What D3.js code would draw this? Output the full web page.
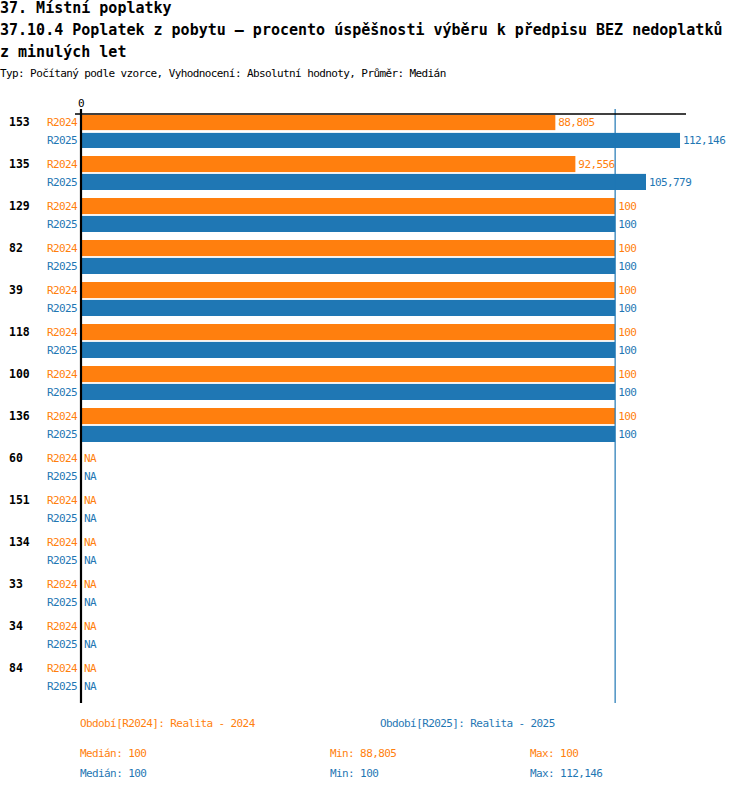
<!DOCTYPE html>
<html>
<head>
<meta charset="utf-8">
<script src="https://cdn.jsdelivr.net/npm/d3@7/dist/d3.min.js"></script>
<style>
  body { margin: 0; background: #fff; }
  svg text { font-family: "DejaVu Sans Mono", monospace; }
  .small { font-size: 11px; letter-spacing: -0.6px; }
</style>
</head>
<body>
<div id="chart"></div>
<script>
// chart data
const groups = ["153", "135", "129", "82", "39", "118", "100", "136", "60", "151", "134", "33", "34", "84"];
const series = ["R2024", "R2025"];
const valuesR2024 = [88.805, 92.556, 100, 100, 100, 100, 100, 100, null, null, null, null, null, null];
const valuesR2025 = [112.146, 105.779, 100, 100, 100, 100, 100, 100, null, null, null, null, null, null];
const xTicks = [0];
const refValue = 100;

const titleLines = [
  "37. Místní poplatky",
  "37.10.4 Poplatek z pobytu – procento úspěšnosti výběru k předpisu BEZ nedoplatků",
  "z minulých let"
];
const subtitle = "Typ: Počítaný podle vzorce, Vyhodnocení: Absolutní hodnoty, Průměr: Medián";
const legendLabels = ["Období[R2024]: Realita - 2024", "Období[R2025]: Realita - 2025"];
const statsR2024 = ["Medián: 100", "Min: 88,805", "Max: 100"];
const statsR2025 = ["Medián: 100", "Min: 100", "Max: 112,146"];

const COLORS = { R2024: "#ff7f0e", R2025: "#1f77b4" };

const w = 750, h = 792;
const fmt = v => d3.format(",.3~f")(v).replace(".", ",");

const svg = d3.select("#chart").append("svg")
  .attr("width", w).attr("height", h);

// titles
svg.append("g").selectAll("text")
  .data(titleLines).enter().append("text")
  .attr("x", 0).attr("y", (d, i) => 13 + i * 22)
  .attr("font-size", 15).attr("font-weight", "bold")
  .attr("fill", "#000")
  .text(d => d);

svg.append("text").attr("class", "small")
  .attr("x", 0).attr("y", 77).attr("fill", "#000")
  .text(subtitle);

// scales
const x = d3.scaleLinear()
  .domain([0, d3.max(valuesR2025) * 1.01])
  .range([81, 686]);

const y = d3.scaleBand().domain(groups).range([114, 702]);
const yInner = d3.scaleBand().domain(series).range([0, 34]).paddingInner(0.1);

const rows = [];
groups.forEach((g, i) => {
  rows.push({ group: g, s: "R2024", v: valuesR2024[i] });
  rows.push({ group: g, s: "R2025", v: valuesR2025[i] });
});

// bars
svg.append("g").selectAll("rect")
  .data(rows.filter(d => d.v !== null)).enter().append("rect")
  .attr("x", x(0))
  .attr("y", d => y(d.group) + yInner(d.s) + (d.group === groups[0] ? 1 : 0))
  .attr("width", d => x(d.v) - x(0))
  .attr("height", d => yInner.bandwidth() - (d.group === groups[0] ? 1 : 0))
  .attr("fill", d => COLORS[d.s]);

// value labels
svg.append("g").selectAll("text")
  .data(rows).enter().append("text")
  .attr("class", "small")
  .attr("x", d => (d.v === null ? x(0) : x(d.v)) + 3)
  .attr("y", d => y(d.group) + yInner(d.s) + yInner.bandwidth() / 2)
  .attr("dy", "0.35em")
  .attr("fill", d => COLORS[d.s])
  .text(d => d.v === null ? "NA" : fmt(d.v));

// series labels
svg.append("g").selectAll("text")
  .data(rows).enter().append("text")
  .attr("class", "small")
  .attr("x", 77)
  .attr("y", d => y(d.group) + yInner(d.s) + yInner.bandwidth() / 2)
  .attr("dy", "0.35em")
  .attr("text-anchor", "end")
  .attr("fill", d => COLORS[d.s])
  .text(d => d.s);

// group labels
svg.append("g").selectAll("text")
  .data(groups).enter().append("text")
  .attr("x", 9)
  .attr("y", d => y(d) + yInner("R2024") + yInner.bandwidth() / 2)
  .attr("dy", "0.35em")
  .attr("font-size", 11.5).attr("font-weight", "bold")
  .attr("fill", "#000")
  .text(d => d);

// reference line at 100
svg.append("line")
  .attr("x1", x(refValue)).attr("x2", x(refValue))
  .attr("y1", 109).attr("y2", 703)
  .attr("stroke", COLORS.R2025).attr("stroke-width", 1.2);

// axes
svg.append("line")
  .attr("x1", x(0) - 6).attr("x2", x.range()[1])
  .attr("y1", 114).attr("y2", 114)
  .attr("stroke", "#000").attr("stroke-width", 1.5);
svg.append("line")
  .attr("x1", x(0)).attr("x2", x(0))
  .attr("y1", 109).attr("y2", 703)
  .attr("stroke", "#000").attr("stroke-width", 2.2);

svg.append("g").selectAll("text")
  .data(xTicks).enter().append("text")
  .attr("class", "small")
  .attr("x", d => x(d)).attr("y", 107)
  .attr("text-anchor", "middle")
  .attr("fill", "#000")
  .text(d => d);

// legend
svg.append("g").selectAll("text")
  .data(legendLabels).enter().append("text")
  .attr("class", "small")
  .attr("x", (d, i) => 80 + i * 300).attr("y", 727)
  .attr("fill", (d, i) => COLORS[series[i]])
  .text(d => d);

const statX = [80, 330, 530];
[statsR2024, statsR2025].forEach((arr, j) => {
  svg.append("g").selectAll("text")
    .data(arr).enter().append("text")
    .attr("class", "small")
    .attr("x", (d, i) => statX[i]).attr("y", 757 + j * 20)
    .attr("fill", COLORS[series[j]])
    .text(d => d);
});
</script>
</body>
</html>
